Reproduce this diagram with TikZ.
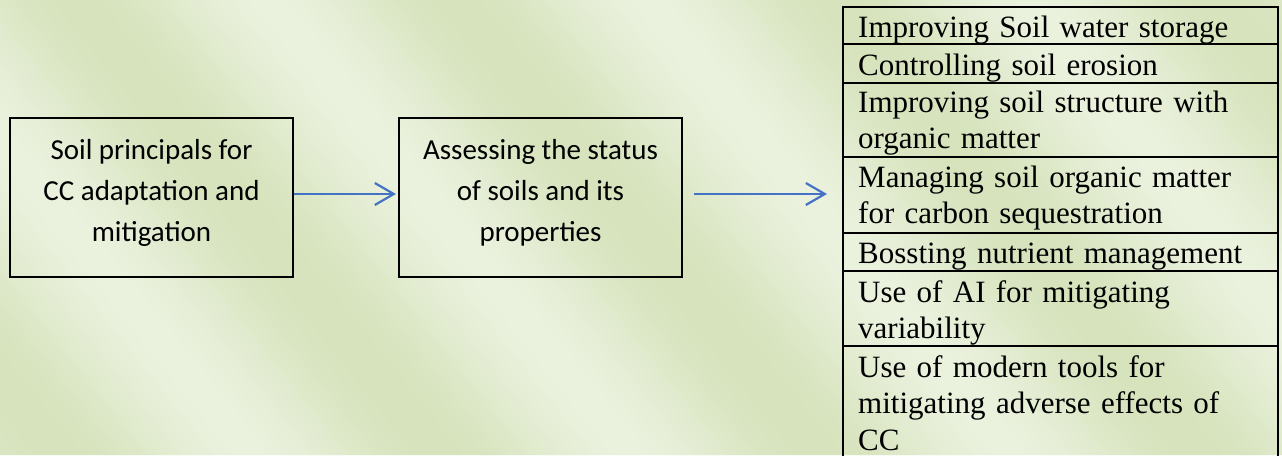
\documentclass[tikz,border=0pt]{standalone}
\usepackage{fontspec}
\setmainfont{Liberation Serif}
\newfontfamily\boxfont{Carlito}
\usetikzlibrary{arrows.meta,calc}
\definecolor{bgA}{RGB}{234,241,221}
\definecolor{bgB}{RGB}{214,227,188}
\definecolor{arrblue}{RGB}{68,114,196}
\begin{document}
\begin{tikzpicture}[x=1pt,y=-1pt,
  stepbox/.style={draw=black, line width=2pt, minimum width=283pt, minimum height=159pt, inner sep=0pt},
  boxtext/.style={align=center, font=\boxfont\fontsize{29}{41}\selectfont, inner sep=0pt},
  row/.style={draw=black, line width=2pt, anchor=north west, minimum width=435pt, inner sep=0pt, outer sep=0pt},
  rowtext/.style={anchor=base west, text width=410pt, inner sep=0pt, align=left,
    font=\fontsize{31}{36.5}\selectfont},
  arr/.style={draw=arrblue, line width=2.2pt, -{Straight Barb[length=19pt,width=22pt,line width=2.2pt]}}]
\useasboundingbox (0,0) rectangle (1282,455);
\begin{scope}
\clip (0,0) rectangle (1282,455);
% background: diagonal soft bands
\foreach \u in {-372,-368,...,1290}{
  \pgfmathsetmacro\pct{50+50*cos((\u-265)/380*360)}
  \fill[bgA!\pct!bgB] (\u,0) -- (\u+5,0) -- (\u+369,455) -- (\u+364,455) -- cycle;
}
\node[stepbox] (b1) at (151.5,197.5) {};
\node[boxtext] (t1) at ([yshift=5pt]b1.center) {Soil principals for\\CC adaptation and\\mitigation};
\node[stepbox] (b2) at (540.5,197.5) {};
\node[boxtext] (t2) at ([yshift=5pt]b2.center) {Assessing the status\\of soils and its\\properties};
\node[row, minimum height=37pt] (r1) at (843,7) {};
\node[row, minimum height=39pt] (r2) at (r1.south west) {};
\node[row, minimum height=74pt] (r3) at (r2.south west) {};
\node[row, minimum height=76pt] (r4) at (r3.south west) {};
\node[row, minimum height=38pt] (r5) at (r4.south west) {};
\node[row, minimum height=75pt] (r6) at (r5.south west) {};
\node[row, minimum height=113pt] (r7) at (r6.south west) {};
\node[rowtext] (l1) at ($(r1.north west)+(15,30)$) {Improving Soil water storage};
\node[rowtext] (l2) at ($(r2.north west)+(15,31)$) {Controlling soil erosion};
\node[rowtext] (l3) at ($(r3.north west)+(15,29)$) {Improving soil structure with\\organic matter};
\node[rowtext] (l4) at ($(r4.north west)+(15,30)$) {Managing soil organic matter\\for carbon sequestration};
\node[rowtext] (l5) at ($(r5.north west)+(15,30)$) {Bossting nutrient management};
\node[rowtext] (l6) at ($(r6.north west)+(15,31)$) {Use of AI for mitigating\\variability};
\node[rowtext, font=\fontsize{31}{36.5}\selectfont] (l7) at ($(r7.north west)+(15,31)$) {Use of modern tools for\\mitigating adverse effects of\\CC};
\draw[arr] ([yshift=3.5pt]b1.east) -- ([xshift=-2pt,yshift=3.5pt]b2.west);
\coordinate (a2s) at ([xshift=11pt,yshift=3.5pt]b2.east);
\coordinate (a2e) at ($(a2s -| r4.west)+(-16,0)$);
\draw[arr] (a2s) -- (a2e);
\end{scope}
\end{tikzpicture}
\end{document}
